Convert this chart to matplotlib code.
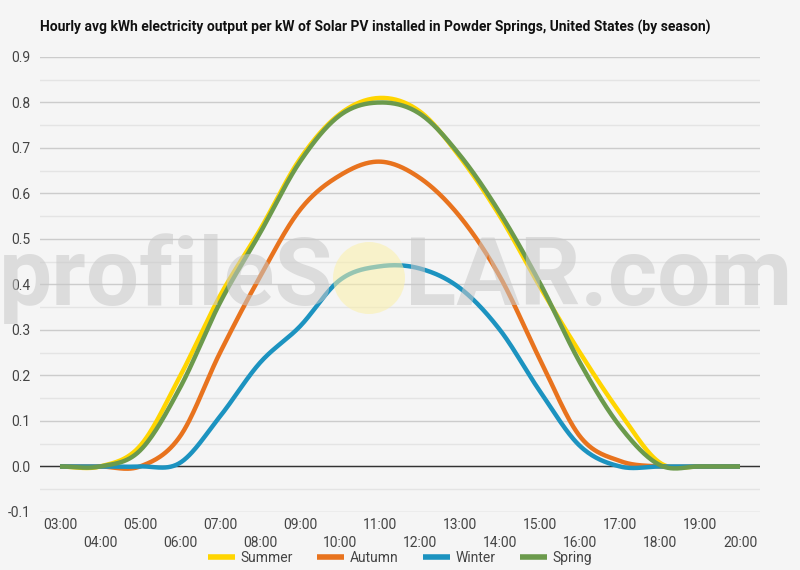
import matplotlib.pyplot as plt
from matplotlib.patches import Circle
import numpy as np

plt.rcParams['font.family'] = ['Roboto', 'DejaVu Sans']

hours = list(range(3, 21))
hour_labels = ["%02d:00" % h for h in hours]

summer = [0.0, 0.0, 0.045, 0.198, 0.375, 0.52, 0.676, 0.775, 0.81, 0.78, 0.68, 0.55, 0.395, 0.25, 0.118, 0.008, 0.0, 0.0]
autumn = [0.0, 0.0, 0.0, 0.066, 0.25, 0.417, 0.564, 0.64, 0.67, 0.634, 0.549, 0.417, 0.235, 0.066, 0.012, 0.0, 0.0, 0.0]
winter = [0.0, 0.0, 0.0, 0.008, 0.11, 0.228, 0.308, 0.41, 0.44, 0.435, 0.392, 0.30, 0.165, 0.045, 0.0, 0.0, 0.0, 0.0]
spring = [0.0, 0.0, 0.035, 0.173, 0.36, 0.513, 0.67, 0.772, 0.80, 0.775, 0.684, 0.557, 0.403, 0.228, 0.088, 0.003, 0.0, 0.0]

series = [("Summer", summer, "#FFD500"),
          ("Autumn", autumn, "#E8731E"),
          ("Winter", winter, "#1C93C0"),
          ("Spring", spring, "#6B9A4C")]


def smooth(x, y, n=30):
	# catmull-rom curve through the hourly points
	x = np.asarray(x, float)
	y = np.asarray(y, float)
	px = np.concatenate([[2 * x[0] - x[1]], x, [2 * x[-1] - x[-2]]])
	py = np.concatenate([[y[0]], y, [y[-1]]])
	xs, ys = [], []
	t = np.linspace(0, 1, n, endpoint=False)
	for i in range(1, len(px) - 2):
		for arr, out in ((px, xs), (py, ys)):
			p0, p1, p2, p3 = arr[i - 1], arr[i], arr[i + 1], arr[i + 2]
			out.extend(0.5 * (2 * p1 + (-p0 + p2) * t + (2 * p0 - 5 * p1 + 4 * p2 - p3) * t ** 2
			                  + (-p0 + 3 * p1 - 3 * p2 + p3) * t ** 3))
	xs.append(x[-1])
	ys.append(y[-1])
	return np.array(xs), np.array(ys)


fig = plt.figure(figsize=(8, 5.7), dpi=100, facecolor="#f5f5f5")
ax = fig.add_axes([0.05, 0.1018, 0.90, 0.7982])
ax.set_facecolor("#f5f5f5")

for name, vals, col in series:
	cx, cy = smooth(hours, vals)
	ax.plot(cx, cy, color=col, lw=3.2, label=name, solid_capstyle="butt", zorder=3)

ax.set_xlim(2.5, 20.5)
ax.set_ylim(-0.1, 0.9)
yt = np.arange(-0.1, 0.91, 0.1)
ax.set_yticks(yt)
ax.set_yticklabels(["%.1f" % v for v in yt])
ax.set_yticks(np.arange(-0.05, 0.9, 0.1), minor=True)
ax.grid(axis="y", which="major", color="#cccccc", lw=1)
ax.grid(axis="y", which="minor", color="#e4e4e4", lw=1)
ax.axhline(0, color="#333333", lw=1, zorder=2)

ax.set_xticks(hours[0::2])
ax.set_xticklabels(hour_labels[0::2])
ax.set_xticks(hours[1::2], minor=True)
ax.set_xticklabels(hour_labels[1::2], minor=True)
ax.tick_params(axis="x", which="major", length=0, pad=4, labelsize=10, labelcolor="#444444")
ax.tick_params(axis="x", which="minor", length=0, pad=17, labelsize=10, labelcolor="#444444")
ax.tick_params(axis="y", which="both", length=0, pad=7, labelsize=10, labelcolor="#444444")
for s in ax.spines.values():
	s.set_visible(False)

fig.text(0.05, 0.951, "Hourly avg kWh electricity output per kW of Solar PV installed in Powder Springs, United States (by season)",
         fontsize=10, fontweight="bold", color="#111111", va="center")

leg = fig.legend(loc="center", bbox_to_anchor=(0.5, 0.021), ncol=4, frameon=False,
                 fontsize=10, handlelength=1.95, handletextpad=0.45, columnspacing=1.7)
for line in leg.get_lines():
	line.set_linewidth(4)
for t in leg.get_texts():
	t.set_color("#444444")

# watermark
sun = Circle((369, 570 - 278), 36, transform=None, facecolor="#fbf0a8", edgecolor="none", alpha=0.55, zorder=5)
fig.add_artist(sun)
fig.text(333 / 800, 1 - 279 / 570, "profileS", fontsize=68, fontweight="bold", color="#c8c8c8",
         alpha=0.55, ha="right", va="center", zorder=6)
fig.text(405 / 800, 1 - 279 / 570, "LAR.com", fontsize=68, fontweight="bold", color="#c8c8c8",
         alpha=0.55, ha="left", va="center", zorder=6)

fig.savefig("out.png", dpi=100, facecolor=fig.get_facecolor())
